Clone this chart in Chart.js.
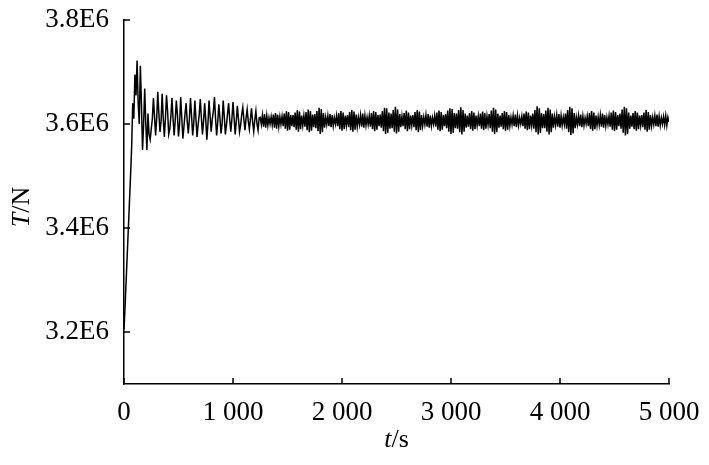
<!DOCTYPE html>
<html>
<head>
<meta charset="utf-8">
<script src="https://cdn.jsdelivr.net/npm/chart.js@4"></script>
<style>
    html, body { margin: 0; padding: 0; background: #fff; }
    #wrap { width: 709px; height: 465px; position: relative; }
</style>
</head>
<body>
<div id="wrap"><canvas id="thrustChart"></canvas></div>
<script>
// sampled every 10 s, values in kN
const TIME_STEP = 10;

const startupKN = [
    3205, 3250, 3300, 3350, 3400, 3450, 3500, 3555, 3640, 3610,
    3695, 3655, 3722, 3640, 3600, 3712, 3640, 3550, 3600, 3668,
    3600, 3550, 3620, 3580, 3570, 3590, 3610,
];

const transientKN = [
    3650, 3615, 3578, 3612,
    3662, 3620, 3585, 3605,
    3658, 3612, 3575, 3610,
    3655, 3625, 3580, 3590, 3615,
    3650, 3610, 3578, 3608,
    3645, 3618, 3576, 3600,
    3652, 3612, 3572, 3595, 3620,
    3640, 3605, 3582, 3610,
    3650, 3615, 3578, 3602,
    3645, 3610, 3575, 3598, 3618,
    3648, 3612, 3580, 3606,
    3640, 3608, 3570, 3600,
    3645, 3615, 3585, 3610, 3625,
    3652, 3610, 3578, 3604,
    3638, 3612, 3582, 3600,
    3645, 3615, 3580, 3598, 3620,
    3640, 3608, 3585, 3610,
    3642, 3612, 3580, 3605,
    3635, 3610, 3585, 3598, 3618,
    3632, 3608, 3588, 3612,
    3628, 3606, 3590, 3610,
    3630, 3604, 3586, 3608,
    3625, 3600, 3588, 3612,
];

const steadyKN = [
    3613, 3599, 3617, 3595, 3619, 3593, 3616, 3597, 3612, 3600,
    3614, 3598, 3618, 3593, 3621, 3591, 3618, 3595, 3614, 3599,
    3615, 3596, 3620, 3591, 3625, 3587, 3623, 3589, 3617, 3596,
    3617, 3594, 3622, 3589, 3627, 3585, 3624, 3590, 3616, 3597,
    3616, 3595, 3623, 3588, 3628, 3584, 3625, 3587, 3618, 3594,
    3619, 3592, 3625, 3586, 3631, 3581, 3629, 3584, 3621, 3593,
    3613, 3599, 3616, 3596, 3619, 3594, 3617, 3596, 3612, 3600,
    3616, 3596, 3621, 3590, 3625, 3587, 3622, 3590, 3616, 3597,
    3617, 3594, 3623, 3588, 3627, 3585, 3624, 3589, 3618, 3595,
    3613, 3599, 3617, 3595, 3620, 3593, 3616, 3597, 3613, 3599,
    3616, 3595, 3621, 3590, 3625, 3586, 3623, 3589, 3617, 3596,
    3618, 3593, 3625, 3586, 3631, 3581, 3630, 3583, 3622, 3591,
    3620, 3592, 3627, 3585, 3633, 3582, 3628, 3585, 3619, 3594,
    3615, 3596, 3621, 3590, 3626, 3586, 3622, 3590, 3616, 3597,
    3617, 3594, 3623, 3588, 3627, 3584, 3624, 3588, 3617, 3596,
    3613, 3599, 3617, 3595, 3619, 3593, 3616, 3596, 3612, 3600,
    3616, 3595, 3622, 3589, 3626, 3586, 3623, 3589, 3617, 3596,
    3619, 3592, 3626, 3585, 3630, 3581, 3629, 3583, 3621, 3592,
    3620, 3591, 3627, 3584, 3632, 3580, 3627, 3585, 3620, 3593,
    3616, 3595, 3621, 3590, 3625, 3587, 3622, 3590, 3616, 3597,
    3615, 3596, 3620, 3591, 3624, 3588, 3621, 3591, 3615, 3598,
    3619, 3592, 3626, 3585, 3631, 3581, 3628, 3584, 3620, 3593,
    3616, 3595, 3621, 3590, 3625, 3587, 3623, 3589, 3617, 3596,
    3613, 3599, 3616, 3596, 3618, 3594, 3616, 3597, 3612, 3600,
    3615, 3596, 3620, 3591, 3624, 3588, 3622, 3590, 3616, 3597,
    3620, 3591, 3627, 3584, 3634, 3580, 3630, 3583, 3621, 3592,
    3619, 3592, 3626, 3585, 3631, 3580, 3628, 3584, 3620, 3593,
    3614, 3598, 3617, 3595, 3619, 3593, 3616, 3597, 3613, 3599,
    3620, 3591, 3627, 3584, 3633, 3579, 3630, 3582, 3621, 3592,
    3613, 3599, 3616, 3596, 3618, 3594, 3615, 3597, 3612, 3600,
    3615, 3596, 3621, 3590, 3625, 3587, 3622, 3590, 3616, 3597,
    3614, 3598, 3617, 3595, 3620, 3593, 3617, 3596, 3613, 3599,
    3616, 3595, 3622, 3589, 3626, 3586, 3623, 3589, 3617, 3596,
    3620, 3591, 3628, 3583, 3633, 3578, 3630, 3581, 3622, 3591,
    3616, 3595, 3621, 3590, 3625, 3587, 3622, 3590, 3616, 3597,
    3617, 3594, 3622, 3589, 3627, 3585, 3623, 3589, 3617, 3596,
    3613, 3599, 3616, 3596, 3618, 3595, 3615, 3597, 3612, 3600,
    3614, 3598, 3616, 3597, 3613, 3604,
];

const yTicks = [3.2e6, 3.4e6, 3.6e6, 3.8e6];
const xTicks = [0, 1000, 2000, 3000, 4000, 5000];

const FONT = '"Liberation Serif", "Times New Roman", serif';

const thrust = [...startupKN, ...transientKN, ...steadyKN];
const points = thrust.map((kn, i) => ({ x: i * TIME_STEP, y: kn * 1000 }));

function fmtX(v) {
    if (v === 0) return '0';
    return `${v / 1000} 000`;
}

function drawMixed(ctx, parts, cx, cy, size) {
    const fonts = parts.map((p) => `${p.italic ? 'italic ' : ''}${size}px ${FONT}`);
    const widths = parts.map((p, i) => { ctx.font = fonts[i]; return ctx.measureText(p.text).width; });
    let x = cx - widths.reduce((a, b) => a + b, 0) / 2;
    ctx.textAlign = 'left';
    ctx.textBaseline = 'middle';
    parts.forEach((p, i) => {
        ctx.font = fonts[i];
        ctx.fillText(p.text, x, cy);
        x += widths[i];
    });
}

// inward tick marks + axis titles with italic symbols
const axisDecor = {
    id: 'axisDecor',
    afterDraw(chart) {
        const { ctx, chartArea: a, scales: { x, y } } = chart;
        ctx.save();
        ctx.strokeStyle = '#000';
        ctx.lineWidth = 1.5;
        ctx.beginPath();
        x.ticks.forEach((t) => {
            const px = x.getPixelForValue(t.value);
            ctx.moveTo(px, a.bottom);
            ctx.lineTo(px, a.bottom - 6);
        });
        y.ticks.forEach((t) => {
            const py = y.getPixelForValue(t.value);
            ctx.moveTo(a.left, py);
            ctx.lineTo(a.left + 6, py);
        });
        ctx.stroke();

        ctx.fillStyle = '#000';
        drawMixed(ctx, [{ text: 't', italic: true }, { text: '/s', italic: false }],
            (a.left + a.right) / 2, a.bottom + 56, 26);

        ctx.translate(22, (a.top + a.bottom) / 2 + 5);
        ctx.rotate(-Math.PI / 2);
        drawMixed(ctx, [{ text: 'T', italic: true }, { text: '/N', italic: false }], 0, 0, 26);
        ctx.restore();
    },
};

new Chart(document.querySelector('#thrustChart'), {
    type: 'line',
    data: {
        datasets: [{
            data: points,
            borderColor: '#000',
            borderWidth: 1.5,
            pointRadius: 0,
            tension: 0,
            fill: false,
        }],
    },
    options: {
        responsive: true,
        maintainAspectRatio: false,
        animation: false,
        parsing: false,
        layout: { padding: { top: 20, right: 40, left: 0, bottom: 0 } },
        scales: {
            x: {
                type: 'linear',
                min: 0,
                max: 5000,
                afterFit: (s) => { s.height = 81; },
                afterBuildTicks: (s) => { s.ticks = xTicks.map((v) => ({ value: v })); },
                grid: { display: false },
                border: { display: true, color: '#000', width: 1.5 },
                ticks: {
                    color: '#000',
                    padding: 5,
                    maxRotation: 0,
                    autoSkip: false,
                    font: { family: FONT, size: 27 },
                    callback: fmtX,
                },
            },
            y: {
                type: 'linear',
                min: 3.1e6,
                max: 3.8e6,
                afterFit: (s) => { s.width = 124; s.paddingTop = 0; s.paddingBottom = 0; },
                afterBuildTicks: (s) => { s.ticks = yTicks.map((v) => ({ value: v })); },
                grid: { display: false },
                border: { display: true, color: '#000', width: 1.5 },
                ticks: {
                    color: '#000',
                    padding: 7,
                    autoSkip: false,
                    font: { family: FONT, size: 27 },
                    callback: (v) => `${(v / 1e6).toFixed(1)}E6`,
                },
            },
        },
        plugins: {
            legend: { display: false },
            tooltip: { enabled: false },
        },
    },
    plugins: [axisDecor],
});
</script>
</body>
</html>
